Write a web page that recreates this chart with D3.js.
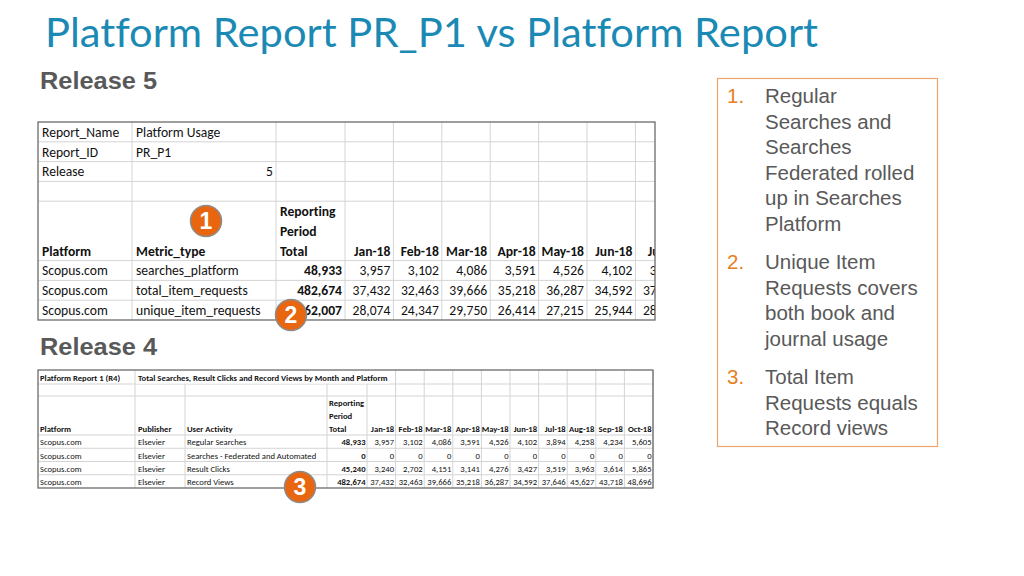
<!DOCTYPE html>
<html>
<head>
<meta charset="utf-8">
<script src="https://cdn.jsdelivr.net/npm/d3@7"></script>
<style>
  html, body { margin: 0; padding: 0; background: #fff; }
  svg { display: block; }
  text { font-variant-ligatures: none; }
</style>
</head>
<body>
<svg id="slide"></svg>
<script>
// ---- data ----
var r5MetaLabels = ["Report_Name", "Report_ID", "Release"];
var r5MetaValues = ["Platform Usage", "PR_P1", 5];
var r5Months = ["Jan-18", "Feb-18", "Mar-18", "Apr-18", "May-18", "Jun-18", "Jul-18"];
var r5Metrics = ["searches_platform", "total_item_requests", "unique_item_requests"];
var r5Totals = [48933, 482674, 362007];
var r5Searches = [3957, 3102, 4086, 3591, 4526, 4102, 3894];
var r5TotalItem = [37432, 32463, 39666, 35218, 36287, 34592, 37646];
var r5UniqueItem = [28074, 24347, 29750, 26414, 27215, 25944, 28260];

var r4Months = ["Jan-18", "Feb-18", "Mar-18", "Apr-18", "May-18", "Jun-18", "Jul-18", "Aug-18", "Sep-18", "Oct-18"];
var r4Activities = ["Regular Searches", "Searches - Federated and Automated", "Result Clicks", "Record Views"];
var r4Totals = [48933, 0, 45240, 482674];
var r4Regular = [3957, 3102, 4086, 3591, 4526, 4102, 3894, 4258, 4234, 5605];
var r4Federated = [0, 0, 0, 0, 0, 0, 0, 0, 0, 0];
var r4Clicks = [3240, 2702, 4151, 3141, 4276, 3427, 3519, 3963, 3614, 5865];
var r4Views = [37432, 32463, 39666, 35218, 36287, 34592, 37646, 45627, 43718, 48696];

var noteLines = [
  ["Regular", "Searches and", "Searches", "Federated rolled", "up in Searches", "Platform"],
  ["Unique Item", "Requests covers", "both book and", "journal usage"],
  ["Total Item", "Requests equals", "Record views"]
];

var platform = "Scopus.com", publisher = "Elsevier";
var fmt = d3.format(",");
var cellFont = "Carlito, Lato, 'Liberation Sans', sans-serif";
var gridColor = "#d4d4d4";

var svg = d3.select("#slide").attr("width", 1024).attr("height", 576);

// title
svg.append("text")
  .attr("x", 45).attr("y", 47)
  .attr("textLength", 773).attr("lengthAdjust", "spacingAndGlyphs")
  .style("font-family", "Lato, 'Open Sans', sans-serif")
  .style("font-size", "40px")
  .style("fill", "#1a8ab5")
  .text("Platform Report PR_P1 vs Platform Report");

function sectionLabel(txt, y){
  svg.append("text")
    .attr("x", 40).attr("y", y)
    .attr("textLength", 117).attr("lengthAdjust", "spacingAndGlyphs")
    .style("font-family", "'Liberation Sans', Arial, sans-serif")
    .style("font-weight", "bold")
    .style("font-size", "24px")
    .style("fill", "#595959")
    .text(txt);
}
sectionLabel("Release 5", 89);
sectionLabel("Release 4", 355);

function cellText(g, x, y, txt, opt){
  opt = opt || {};
  return g.append("text")
    .attr("x", x).attr("y", y)
    .attr("text-anchor", opt.anchor || "start")
    .style("font-family", cellFont)
    .style("font-size", opt.size)
    .style("font-weight", opt.bold ? "bold" : "normal")
    .style("fill", "#111")
    .text(txt);
}

function gridLines(g, xs, y0, y1, ys, x0, x1){
  g.selectAll("line.v").data(xs).enter().append("line")
    .attr("class", "v")
    .attr("x1", function(d){ return d; }).attr("x2", function(d){ return d; })
    .attr("y1", y0).attr("y2", y1)
    .style("stroke", gridColor).style("stroke-width", 1);
  g.selectAll("line.h").data(ys).enter().append("line")
    .attr("class", "h")
    .attr("x1", x0).attr("x2", x1)
    .attr("y1", function(d){ return d; }).attr("y2", function(d){ return d; })
    .style("stroke", gridColor).style("stroke-width", 1);
}

// ================= Release 5 table =================
(function(){
  var left = 38, right = 655, top = 122, bottom = 320;
  var colX = [38, 132, 276, 345];
  var defs = svg.append("defs");
  defs.append("clipPath").attr("id", "clip5")
    .append("rect").attr("x", left).attr("y", top).attr("width", right - left).attr("height", bottom - top);
  var g = svg.append("g").attr("clip-path", "url(#clip5)");
  g.append("rect").attr("x", left).attr("y", top).attr("width", right - left).attr("height", bottom - top).style("fill", "#fff");

  var rowY = d3.scaleLinear().domain([0, 10]).range([top, bottom]);
  var monthX = d3.scaleBand().domain(r5Months).range([345, 345 + 48.4 * r5Months.length]);
  var size = "13.6px";

  var xs = colX.slice(1).concat(r5Months.map(function(m){ return monthX(m) + monthX.bandwidth(); }));
  var ys = [1, 2, 3, 4, 7, 8, 9].map(rowY);
  gridLines(g, xs, top, bottom, ys, left, right);

  var base = function(r){ return rowY(r + 1) - 5; };
  r5MetaLabels.forEach(function(d, i){
    cellText(g, 42, base(i), d, {size: size});
    if (typeof r5MetaValues[i] === "number")
      cellText(g, colX[2] - 3, base(i), r5MetaValues[i], {size: size, anchor: "end"});
    else
      cellText(g, 136, base(i), r5MetaValues[i], {size: size});
  });

  // header (three text lines)
  ["Reporting", "Period", "Total"].forEach(function(t, k){
    cellText(g, 280, base(4 + k), t, {size: size, bold: true});
  });
  cellText(g, 42, base(6), "Platform", {size: size, bold: true});
  cellText(g, 136, base(6), "Metric_type", {size: size, bold: true});
  r5Months.forEach(function(m){
    cellText(g, monthX(m) + monthX.bandwidth() - 3, base(6), m, {size: size, bold: true, anchor: "end"});
  });

  var series = [r5Searches, r5TotalItem, r5UniqueItem];
  r5Metrics.forEach(function(mt, i){
    var r = 7 + i;
    cellText(g, 42, base(r), platform, {size: size});
    cellText(g, 136, base(r), mt, {size: size});
    cellText(g, colX[3] - 3, base(r), fmt(r5Totals[i]), {size: size, bold: true, anchor: "end"});
    series[i].forEach(function(v, j){
      cellText(g, monthX(r5Months[j]) + monthX.bandwidth() - 3, base(r), fmt(v), {size: size, anchor: "end"});
    });
  });

  svg.append("rect").attr("x", left).attr("y", top).attr("width", right - left).attr("height", bottom - top)
    .style("fill", "none").style("stroke", "#6b6b6b").style("stroke-width", 1.3);
})();

// ================= Release 4 table =================
(function(){
  var left = 38, right = 653, top = 370, bottom = 488;
  var colX = [38, 135, 185, 327, 367];
  var g = svg.append("g");
  var size = "8.6px";
  var rowY = d3.scaleLinear().domain([0, 4]).range([435, bottom]);
  var monthX = d3.scaleBand().domain(r4Months).range([367, right]);

  var xs = colX.slice(1).concat(r4Months.map(function(m){ return monthX(m) + monthX.bandwidth(); }));
  var ys = [384, 396].concat([0, 1, 2, 3].map(rowY));
  gridLines(g, xs, top, bottom, ys, left, right);

  // title row: text spills over the empty cells to its right
  cellText(g, 40, 381, "Platform Report 1 (R4)", {size: size, bold: true});
  var ttl = cellText(g, 138, 381, "Total Searches, Result Clicks and Record Views by Month and Platform", {size: size, bold: true});
  var bb = ttl.node().getBBox();
  g.insert("rect", "text").attr("x", 136).attr("y", top + 1).attr("width", bb.x + bb.width - 134).attr("height", 384 - top - 1.5).style("fill", "#fff");

  ["Reporting", "Period", "Total"].forEach(function(t, k){
    cellText(g, 329, 406 + k * 13, t, {size: size, bold: true});
  });
  cellText(g, 40, 432, "Platform", {size: size, bold: true});
  cellText(g, 138, 432, "Publisher", {size: size, bold: true});
  cellText(g, 187, 432, "User Activity", {size: size, bold: true});
  r4Months.forEach(function(m){
    cellText(g, monthX(m) + monthX.bandwidth() - 1.5, 432, m, {size: size, bold: true, anchor: "end"});
  });

  var series = [r4Regular, r4Federated, r4Clicks, r4Views];
  r4Activities.forEach(function(a, i){
    var y = rowY(i + 1) - 3;
    cellText(g, 40, y, platform, {size: size});
    cellText(g, 138, y, publisher, {size: size});
    cellText(g, 187, y, a, {size: size});
    cellText(g, colX[4] - 1.5, y, fmt(r4Totals[i]), {size: size, bold: true, anchor: "end"});
    series[i].forEach(function(v, j){
      cellText(g, monthX(r4Months[j]) + monthX.bandwidth() - 1.5, y, fmt(v), {size: size, anchor: "end"});
    });
  });

  svg.append("rect").attr("x", left).attr("y", top).attr("width", right - left).attr("height", bottom - top)
    .style("fill", "none").style("stroke", "#6b6b6b").style("stroke-width", 1.3);
})();

// ================= numbered badges =================
var badges = [{n: 1, x: 206, y: 221}, {n: 2, x: 291, y: 315}, {n: 3, x: 300, y: 487}];
var bg = svg.selectAll("g.badge").data(badges).enter().append("g")
  .attr("class", "badge")
  .attr("transform", function(d){ return "translate(" + d.x + "," + d.y + ")"; });
bg.append("circle").attr("r", 15.5)
  .style("fill", "#e8660f").style("stroke", "#8c8c8c").style("stroke-width", 1.5);
bg.append("text").attr("y", 8).attr("text-anchor", "middle")
  .style("font-family", "'Liberation Sans', Arial, sans-serif")
  .style("font-weight", "bold").style("font-size", "23px").style("fill", "#fff")
  .text(function(d){ return d.n; });

// ================= notes box =================
svg.append("rect").attr("x", 717.5).attr("y", 78.5).attr("width", 220).attr("height", 368)
  .style("fill", "#fff").style("stroke", "#eda46f").style("stroke-width", 1.2);

var noteStart = [103, 269, 384];
var lineH = 25.6;
noteLines.forEach(function(lines, i){
  svg.append("text").attr("x", 727).attr("y", noteStart[i])
    .style("font-family", "'Liberation Sans', Arial, sans-serif")
    .style("font-size", "20.5px").style("fill", "#e87e22")
    .text((i + 1) + ".");
  svg.selectAll(null).data(lines).enter().append("text")
    .attr("x", 765).attr("y", function(d, k){ return noteStart[i] + k * lineH; })
    .style("font-family", "'Liberation Sans', Arial, sans-serif")
    .style("font-size", "20.5px").style("fill", "#595959")
    .text(function(d){ return d; });
});
</script>
</body>
</html>
